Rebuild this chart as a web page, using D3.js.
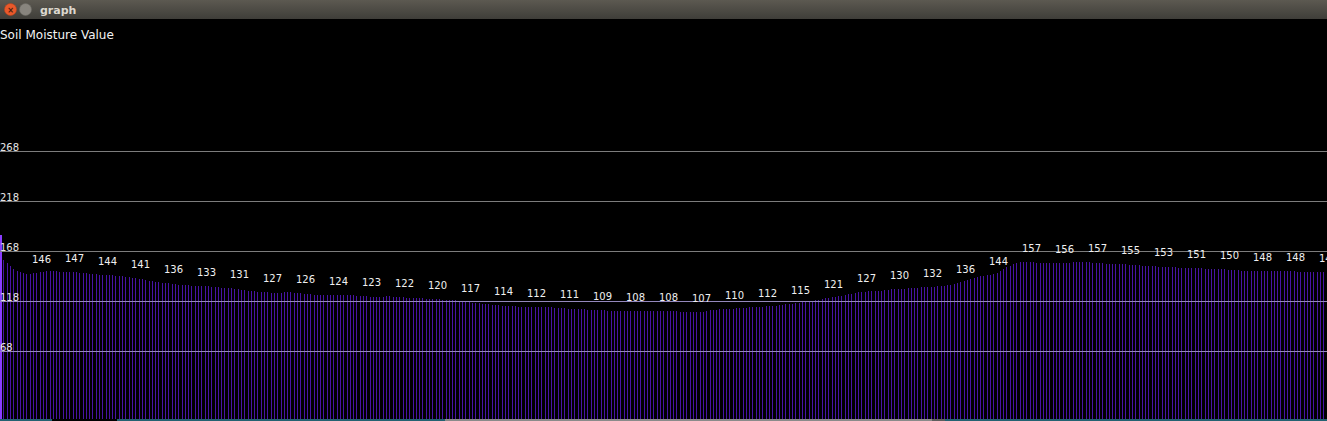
<!DOCTYPE html>
<html>
<head>
<meta charset="utf-8">
<script src="https://cdn.jsdelivr.net/npm/d3@7"></script>
<style>
  html, body { margin: 0; padding: 0; background: #000; overflow: hidden; }
  svg { display: block; }
</style>
</head>
<body>
<svg id="chart" width="1327" height="421"></svg>
<script>
const windowTitle = "graph";
const axisTitle = "Soil Moisture Value";
const tickValues = [268, 218, 168, 118, 68];
const barValues = [
  184,159,156,153,150,148,147,146,145,145,146,
  146,147,147,148,148,148,148,147,147,147,
  147,147,147,146,146,146,145,145,145,144,
  144,144,144,144,143,143,143,142,142,141,
  141,140,140,139,138,138,137,137,136,136,
  136,135,135,134,134,134,134,133,133,133,
  133,133,133,132,132,132,131,131,131,131,
  130,130,129,129,128,128,128,127,127,127,
  127,126,126,126,126,127,127,127,126,126,
  126,125,125,125,124,124,124,124,124,124,
  124,124,124,124,124,124,124,123,123,123,
  123,122,122,122,122,122,123,123,122,122,
  122,122,121,121,121,121,121,121,120,120,
  120,120,120,119,119,119,119,119,118,117,
  117,117,116,116,116,115,115,115,114,114,
  114,113,113,113,113,113,112,112,112,112,
  112,112,112,112,112,112,112,111,111,111,
  111,110,110,110,110,110,110,109,109,109,
  109,109,109,108,108,108,108,108,108,108,
  108,108,108,108,108,108,108,108,108,108,
  108,108,108,108,108,107,107,107,107,107,
  107,107,107,108,109,109,109,110,110,110,
  110,110,111,111,111,111,112,112,112,112,
  112,113,113,113,113,114,114,115,115,115,
  116,116,117,117,118,118,119,119,120,121,
  121,122,122,123,123,124,125,125,126,127,
  127,127,128,128,128,128,128,129,129,130,
  130,130,130,130,131,131,131,131,132,132,
  132,132,132,133,133,133,134,134,135,136,
  137,138,139,140,141,142,143,143,144,144,
  145,146,148,150,152,153,155,156,157,157,
  157,157,157,156,156,156,156,156,156,156,
  156,156,156,156,157,157,157,157,157,157,
  156,156,156,156,155,155,155,155,155,155,
  155,154,154,154,154,153,153,153,153,153,
  152,152,152,152,152,152,151,151,151,151,
  151,151,151,151,150,150,150,150,150,150,
  150,149,149,149,149,148,148,148,148,148,
  148,148,148,148,148,148,148,148,148,148,
  148,148,147,147,147,147,147,147,147,147,147,147
];
const labelStep = 10;

const svg = d3.select("#chart");
const W = 1327, H = 421;
const plotTop = 19, plotBottom = 419;

// window chrome (title bar)
const defs = svg.append("defs");
const grad = defs.append("linearGradient").attr("id", "tb").attr("x1", 0).attr("y1", 0).attr("x2", 0).attr("y2", 1);
grad.append("stop").attr("offset", "0%").attr("stop-color", "#5c5951");
grad.append("stop").attr("offset", "100%").attr("stop-color", "#3f3e39");
svg.append("rect").attr("x", 0).attr("y", 0).attr("width", W).attr("height", plotTop).attr("fill", "url(#tb)");
svg.append("circle").attr("cx", 10.5).attr("cy", 9.5).attr("r", 6).attr("fill", "#e9592b").attr("stroke", "#b8441f").attr("stroke-width", 0.6);
svg.append("text").attr("x", 10.5).attr("y", 12.5).attr("text-anchor", "middle").attr("font-family", "DejaVu Sans").attr("font-size", 8).attr("font-weight", "bold").attr("fill", "#4a1f10").text("×");
svg.append("circle").attr("cx", 25.5).attr("cy", 9.5).attr("r", 6).attr("fill", "#88857e").attr("stroke", "#6b6963").attr("stroke-width", 0.6);
svg.append("text").attr("x", 40).attr("y", 13.5).attr("font-family", "DejaVu Sans").attr("font-size", 11).attr("font-weight", "bold").attr("fill", "#dcd8cf").text(windowTitle);

// plot background
svg.append("rect").attr("x", 0).attr("y", plotTop).attr("width", W).attr("height", plotBottom - plotTop).attr("fill", "#000");

const y = d3.scaleLinear().domain([0, 268]).range([plotBottom, 151]);
const x = d3.scaleLinear().domain([0, 400]).range([0, 1320]);

// bars
svg.append("g").selectAll("rect").data(barValues).join("rect")
  .attr("x", (d, i) => Math.round(x(i)))
  .attr("y", d => y(d))
  .attr("width", (d, i) => i === 0 ? 2 : 1)
  .attr("height", d => plotBottom - y(d))
  .attr("fill", (d, i) => i === 0 ? "#8a3cff" : "#4814a4");

// grid lines
const grid = svg.append("g");
grid.selectAll("line").data(tickValues).join("line")
  .attr("x1", 0).attr("x2", W)
  .attr("y1", d => Math.round(y(d)) + 0.5).attr("y2", d => Math.round(y(d)) + 0.5)
  .attr("stroke", d => d < 130 ? "#9488bc" : "#7c7c7c").attr("stroke-width", 1);
grid.selectAll("text").data(tickValues).join("text")
  .attr("x", 0).attr("y", d => y(d))
  .attr("font-family", "DejaVu Sans").attr("font-size", 10)
  .attr("fill", "#e6e6e6").text(d => d);

// value labels
const labelData = barValues.map((v, i) => ({ v, i })).filter(d => d.i > 0 && d.i % labelStep === 0);
svg.append("g").selectAll("text").data(labelData).join("text")
  .attr("x", d => x(d.i) + 8.5)
  .attr("y", d => y(d.v) - 10)
  .attr("text-anchor", "middle")
  .attr("font-family", "DejaVu Sans").attr("font-size", 10)
  .attr("fill", "#f0f0f0").text(d => d.v);

// axis title
svg.append("text").attr("x", 0).attr("y", 39)
  .attr("font-family", "DejaVu Sans").attr("font-size", 12)
  .attr("fill", "#f2f2f2").text(axisTitle);

// bottom strip
const strip = [[0, 52, "#236272"], [52, 117, "#000"], [117, 445, "#236272"], [445, 932, "#8a8a8a"], [932, 945, "#5e5e5e"], [945, 1327, "#236272"]];
svg.append("g").selectAll("rect").data(strip).join("rect")
  .attr("x", d => d[0]).attr("y", plotBottom).attr("width", d => d[1] - d[0]).attr("height", H - plotBottom)
  .attr("fill", d => d[2]);
</script>
</body>
</html>
